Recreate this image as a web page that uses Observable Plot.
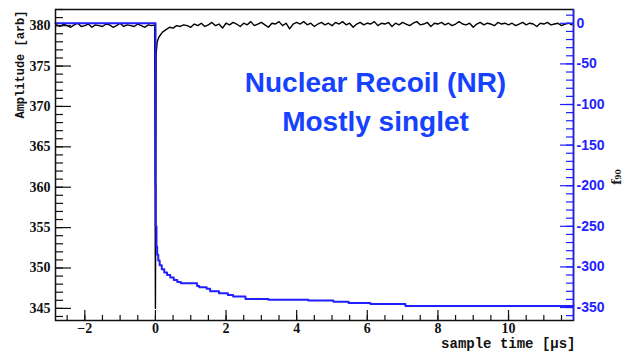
<!DOCTYPE html>
<html><head><meta charset="utf-8">
<script src="https://cdn.jsdelivr.net/npm/d3@7"></script>
<script src="https://cdn.jsdelivr.net/npm/@observablehq/plot@0.6"></script>
<style>
html,body{margin:0;padding:0;background:#fff;}
</style></head><body><div id="chart"></div>
<script>
// ---- tick labels ----
const xTickLabels = [-2, 0, 2, 4, 6, 8, 10];
const ampTickLabels = [345, 350, 355, 360, 365, 370, 375, 380];
const f90TickLabels = [0, -50, -100, -150, -200, -250, -300, -350];

// ---- f90 trace (blue, right axis): sample time [µs] and f90 value ----
const f90Time  = [-2.83, 0, 0.003, 0.01, 0.03, 0.05, 0.08, 0.12, 0.18, 0.25, 0.33, 0.42, 0.52, 0.62, 0.72, 1.18, 1.24, 1.45, 1.55, 1.8, 2.05, 2.2, 2.55, 3.2, 4.33, 5.04, 5.47, 6.09, 7.08, 11.84];
const f90Value = [0, 0, -200, -250, -275, -285, -292, -298, -303, -307, -310, -313, -316, -318.5, -320, -323.5, -325, -327, -330, -332.5, -334.5, -336.5, -339.5, -340.3, -341.5, -342.8, -344.4, -345.6, -348, -348];

// ---- amplitude trace (black, left axis) ----
// baseline before the pulse: samples every 0.1 µs from -2.8 µs
const ampPreStart = -2.8, ampPreStep = 0.1;
const ampPre = [380.1, 379.9, 380.2, 380.0, 379.8, 380.1, 380.3, 379.9, 380.0, 380.2, 379.8, 380.1, 380.0, 379.9, 380.2, 380.1, 379.8, 380.0, 380.3, 379.9, 380.1, 380.0, 379.9, 380.2, 380.0, 379.8, 380.1, 380.0];
// the pulse itself
const ampSpikeTime  = [-0.02, 0, 0.02, 0.05];
const ampSpikeValue = [380.1, 345, 376.5, 378.0];
// after the pulse: samples every 0.1 µs from 0.1 µs
const ampPostStart = 0.1, ampPostStep = 0.1;
const ampPost = [
  378.6, 379.2, 379.5, 379.8, 379.7, 380.0, 379.9, 380.1, 380.0, 379.8,
  380.2, 380.0, 380.3, 379.9, 380.1, 380.4, 380.0, 380.2, 379.7, 380.3,
  380.1, 380.4, 380.2, 379.9, 380.3, 380.1, 380.5, 380.0, 380.2, 380.4,
  380.1, 379.8, 380.3, 380.2, 380.5, 380.0, 380.3, 379.6, 380.2, 380.4,
  380.2, 380.5, 380.1, 380.3, 379.9, 380.2, 380.4, 380.1, 380.3, 380.0,
  380.4, 380.2, 380.5, 380.1, 380.3, 379.8, 380.2, 380.4, 380.1, 380.3,
  380.2, 380.5, 380.0, 380.3, 380.2, 380.4, 379.9, 380.3, 380.1, 380.4,
  380.2, 380.0, 380.3, 380.5, 380.1, 380.2, 380.4, 379.9, 380.3, 380.2,
  380.4, 380.1, 380.3, 380.0, 380.2, 380.5, 380.2, 380.1, 380.3, 379.8,
  380.2, 380.4, 380.1, 380.3, 380.2, 380.0, 380.4, 380.2, 380.3, 380.1,
  380.3, 380.0, 380.2, 380.4, 380.1, 380.3, 380.2, 379.9, 380.3, 380.2,
  380.4, 380.1, 380.2, 380.3, 380.0, 380.2, 380.3, 380.1
];

// ---- build tables ----
const ampData = [
  ...ampPre.map((v, i) => ({t: ampPreStart + i * ampPreStep, v})),
  ...ampSpikeTime.map((t, i) => ({t, v: ampSpikeValue[i]})),
  ...ampPost.map((v, i) => ({t: ampPostStart + i * ampPostStep, v}))
];
const f90Data = f90Time.map((t, i) => ({t, f: f90Value[i]}));

// ---- scales ----
const xDomain = [-2.83, 11.84];
const ampDomain = [343.5, 382];
const f90Domain = [-366, 17];
const f2a = d3.scaleLinear().domain(f90Domain).range(ampDomain);

const BLUE = "#1f1fff";
const TEXTBLUE = "#1541ff";
const INK = "#111";
const serif = "Liberation Serif";
const mono = "Liberation Mono";

const xMinor = d3.range(-2.5, 11.6, 0.5);
const ampMinor = d3.range(344, 383, 1);
const f90Minor = d3.range(-360, 11, 10);

const chart = Plot.plot({
  width: 631, height: 354,
  marginLeft: 55, marginRight: 58, marginTop: 9, marginBottom: 34,
  x: {domain: xDomain},
  y: {domain: ampDomain},
  style: {background: "white", overflow: "visible"},
  marks: [
    // traces
    Plot.line(ampData, {x: "t", y: "v", stroke: "#000", strokeWidth: 1.4}),
    Plot.line(f90Data, {x: "t", y: d => f2a(d.f), stroke: BLUE, strokeWidth: 2, curve: "step-after"}),

    // left axis: inward ticks + labels
    Plot.axisY(ampMinor, {anchor: "left", tickSize: -8, fill: "none", stroke: INK, strokeWidth: 1.2, label: null}),
    Plot.axisY(ampTickLabels, {anchor: "left", tickSize: -16, fill: "none", stroke: INK, strokeWidth: 1.2, label: null}),
    Plot.axisY(ampTickLabels, {anchor: "left", tickSize: 0, tickPadding: 5, fill: INK, fontFamily: serif, fontWeight: "bold", fontSize: 14, label: null}),

    // bottom axis
    Plot.axisX(xMinor, {anchor: "bottom", tickSize: -5, fill: "none", stroke: INK, strokeWidth: 1.2, label: null}),
    Plot.axisX(xTickLabels, {anchor: "bottom", tickSize: -10, fill: "none", stroke: INK, strokeWidth: 1.2, label: null}),
    Plot.axisX(xTickLabels, {anchor: "bottom", tickSize: 0, tickPadding: 3, fill: INK, fontFamily: serif, fontWeight: "bold", fontSize: 14, label: null}),

    // right axis (f90)
    Plot.axisY(f90Minor.map(f2a), {anchor: "right", tickSize: -8, fill: "none", stroke: BLUE, strokeWidth: 1.2, label: null}),
    Plot.axisY(f90TickLabels.map(f2a), {anchor: "right", tickSize: -14, fill: "none", stroke: BLUE, strokeWidth: 1.2, label: null}),
    Plot.axisY(f90TickLabels.map(f2a), {anchor: "right", tickSize: 0, tickPadding: 3, fill: BLUE,
      tickFormat: d => String(Math.round(f2a.invert(d))),
      fontFamily: "Liberation Sans", fontWeight: "bold", fontSize: 14, label: null}),

    // frame
    Plot.frame({stroke: INK, strokeWidth: 1.5}),
    Plot.ruleX([xDomain[1]], {stroke: BLUE, strokeWidth: 1.5}),

    // axis titles
    Plot.text(["Amplitude [arb]"], {frameAnchor: "top-left", rotate: -90, textAnchor: "end", dx: -40, dy: 1,
      fontFamily: mono, fontWeight: "bold", fontSize: 12, fill: INK}),
    Plot.text(["sample time [\u00b5s]"], {frameAnchor: "bottom-right", textAnchor: "end", dx: 2, dy: 27,
      fontFamily: mono, fontWeight: "bold", fontSize: 14, fill: INK}),
    Plot.text(["f\u2089\u2080"], {frameAnchor: "right", rotate: -90, textAnchor: "middle", dx: 44, dy: 12,
      fontFamily: "DejaVu Serif", fontWeight: "bold", fontSize: 12, fill: INK}),

    // annotation
    Plot.text(["Nuclear Recoil (NR)"], {frameAnchor: "top-left", dx: 320, dy: 82, textAnchor: "middle", lineAnchor: "bottom",
      fontFamily: "Liberation Sans", fontWeight: "bold", fontSize: 28, fill: TEXTBLUE}),
    Plot.text(["Mostly singlet"], {frameAnchor: "top-left", dx: 320, dy: 121, textAnchor: "middle", lineAnchor: "bottom",
      fontFamily: "Liberation Sans", fontWeight: "bold", fontSize: 28, fill: TEXTBLUE})
  ]
});
document.getElementById("chart").appendChild(chart);
</script>
</body></html>
